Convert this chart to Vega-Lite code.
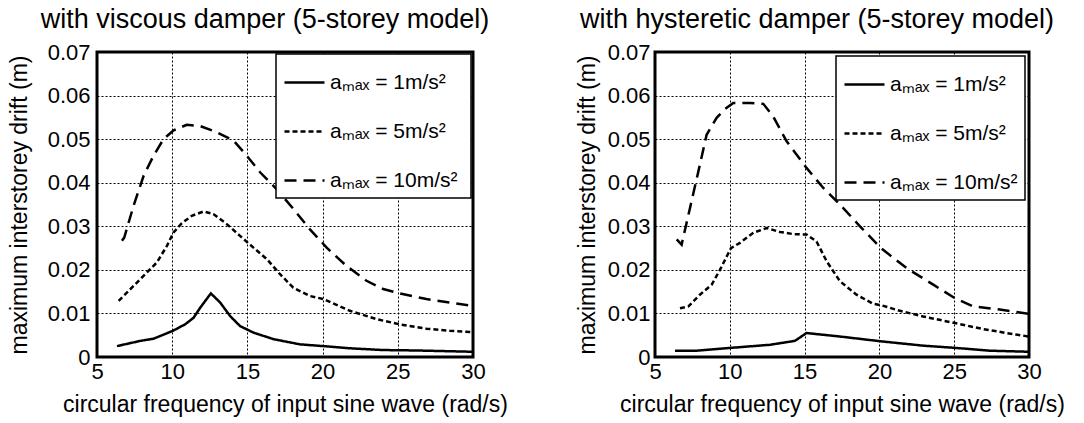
{
  "$schema": "https://vega.github.io/schema/vega-lite/v6.json",
  "padding": {"left": 6, "top": 4, "right": 0, "bottom": 0},
  "background": "white",
  "bounds": "flush",
  "spacing": 182,
  "resolve": {"scale": {"strokeDash": "independent"}, "legend": {"strokeDash": "independent"}},
  "config": {
    "font": "Liberation Sans",
    "view": {"stroke": "black", "strokeWidth": 3},
    "axis": {
      "labelFont": "Liberation Sans",
      "titleFont": "Liberation Sans",
      "labelFontSize": 22,
      "titleFontSize": 23,
      "titleFontWeight": "normal",
      "labelColor": "black",
      "titleColor": "black",
      "ticks": false,
      "domain": false,
      "grid": true,
      "gridColor": "black",
      "gridDash": [2, 2],
      "gridWidth": 1,
      "gridOpacity": 1
    },
    "legend": {
      "labelFont": "Liberation Sans",
      "labelFontSize": 21,
      "labelColor": "black",
      "fillColor": "white",
      "strokeColor": "black",
      "strokeWidth": 1.5,
      "padding": 7,
      "rowPadding": 17,
      "symbolType": "stroke",
      "symbolSize": 1600,
      "symbolStrokeWidth": 2.5,
      "symbolStrokeColor": "black",
      "labelOffset": 4
    },
    "title": {"font": "Liberation Sans", "fontSize": 27, "fontWeight": "normal", "color": "black", "anchor": "middle", "offset": 7}
  },
  "datasets": {
    "viscous": [
      {"w": 6.33, "drift": 0.0025, "amax": "1"},
      {"w": 7.88, "drift": 0.0037, "amax": "1"},
      {"w": 8.76, "drift": 0.0042, "amax": "1"},
      {"w": 10.04, "drift": 0.006, "amax": "1"},
      {"w": 10.86, "drift": 0.0075, "amax": "1"},
      {"w": 11.42, "drift": 0.009, "amax": "1"},
      {"w": 11.86, "drift": 0.0113, "amax": "1"},
      {"w": 12.57, "drift": 0.0146, "amax": "1"},
      {"w": 13.19, "drift": 0.0125, "amax": "1"},
      {"w": 13.85, "drift": 0.0094, "amax": "1"},
      {"w": 14.51, "drift": 0.0071, "amax": "1"},
      {"w": 15.4, "drift": 0.0056, "amax": "1"},
      {"w": 16.73, "drift": 0.0041, "amax": "1"},
      {"w": 18.5, "drift": 0.0029, "amax": "1"},
      {"w": 20.04, "drift": 0.0025, "amax": "1"},
      {"w": 21.8, "drift": 0.002, "amax": "1"},
      {"w": 24.0, "drift": 0.0016, "amax": "1"},
      {"w": 26.2, "drift": 0.0015, "amax": "1"},
      {"w": 30.0, "drift": 0.0012, "amax": "1"},
      {"w": 6.44, "drift": 0.0129, "amax": "5"},
      {"w": 7.43, "drift": 0.0163, "amax": "5"},
      {"w": 8.32, "drift": 0.0194, "amax": "5"},
      {"w": 8.98, "drift": 0.0217, "amax": "5"},
      {"w": 9.65, "drift": 0.0255, "amax": "5"},
      {"w": 10.09, "drift": 0.0286, "amax": "5"},
      {"w": 10.64, "drift": 0.0307, "amax": "5"},
      {"w": 11.3, "drift": 0.0324, "amax": "5"},
      {"w": 12.08, "drift": 0.0334, "amax": "5"},
      {"w": 12.74, "drift": 0.0328, "amax": "5"},
      {"w": 13.63, "drift": 0.0305, "amax": "5"},
      {"w": 14.51, "drift": 0.0278, "amax": "5"},
      {"w": 15.4, "drift": 0.0251, "amax": "5"},
      {"w": 16.28, "drift": 0.0225, "amax": "5"},
      {"w": 17.17, "drift": 0.019, "amax": "5"},
      {"w": 18.05, "drift": 0.0159, "amax": "5"},
      {"w": 19.16, "drift": 0.014, "amax": "5"},
      {"w": 20.04, "drift": 0.0133, "amax": "5"},
      {"w": 21.81, "drift": 0.0106, "amax": "5"},
      {"w": 23.58, "drift": 0.0087, "amax": "5"},
      {"w": 25.13, "drift": 0.0075, "amax": "5"},
      {"w": 26.9, "drift": 0.0065, "amax": "5"},
      {"w": 28.45, "drift": 0.006, "amax": "5"},
      {"w": 30.0, "drift": 0.0057, "amax": "5"},
      {"w": 6.66, "drift": 0.0267, "amax": "10"},
      {"w": 6.81, "drift": 0.0274, "amax": "10"},
      {"w": 7.43, "drift": 0.0347, "amax": "10"},
      {"w": 8.1, "drift": 0.0416, "amax": "10"},
      {"w": 8.76, "drift": 0.0462, "amax": "10"},
      {"w": 9.42, "drift": 0.05, "amax": "10"},
      {"w": 10.09, "drift": 0.052, "amax": "10"},
      {"w": 10.97, "drift": 0.0533, "amax": "10"},
      {"w": 11.86, "drift": 0.053, "amax": "10"},
      {"w": 12.96, "drift": 0.0516, "amax": "10"},
      {"w": 14.07, "drift": 0.0497, "amax": "10"},
      {"w": 14.96, "drift": 0.0462, "amax": "10"},
      {"w": 15.84, "drift": 0.0424, "amax": "10"},
      {"w": 16.95, "drift": 0.0385, "amax": "10"},
      {"w": 18.05, "drift": 0.034, "amax": "10"},
      {"w": 19.16, "drift": 0.0293, "amax": "10"},
      {"w": 20.27, "drift": 0.0251, "amax": "10"},
      {"w": 21.59, "drift": 0.0209, "amax": "10"},
      {"w": 22.92, "drift": 0.0175, "amax": "10"},
      {"w": 24.03, "drift": 0.0156, "amax": "10"},
      {"w": 25.13, "drift": 0.0146, "amax": "10"},
      {"w": 26.9, "drift": 0.0133, "amax": "10"},
      {"w": 28.45, "drift": 0.0125, "amax": "10"},
      {"w": 30.0, "drift": 0.0117, "amax": "10"}
    ],
    "hysteretic": [
      {"w": 6.34, "drift": 0.00145, "amax": "1"},
      {"w": 7.78, "drift": 0.00145, "amax": "1"},
      {"w": 10.08, "drift": 0.0021, "amax": "1"},
      {"w": 12.68, "drift": 0.0028, "amax": "1"},
      {"w": 14.35, "drift": 0.0037, "amax": "1"},
      {"w": 15.13, "drift": 0.0055, "amax": "1"},
      {"w": 17.36, "drift": 0.0047, "amax": "1"},
      {"w": 20.1, "drift": 0.0036, "amax": "1"},
      {"w": 22.93, "drift": 0.0026, "amax": "1"},
      {"w": 25.04, "drift": 0.0021, "amax": "1"},
      {"w": 27.38, "drift": 0.00145, "amax": "1"},
      {"w": 30.0, "drift": 0.0012, "amax": "1"},
      {"w": 6.67, "drift": 0.0112, "amax": "5"},
      {"w": 7.23, "drift": 0.0116, "amax": "5"},
      {"w": 8.0, "drift": 0.0143, "amax": "5"},
      {"w": 8.79, "drift": 0.0166, "amax": "5"},
      {"w": 9.34, "drift": 0.02, "amax": "5"},
      {"w": 10.08, "drift": 0.025, "amax": "5"},
      {"w": 10.68, "drift": 0.0262, "amax": "5"},
      {"w": 11.57, "drift": 0.0285, "amax": "5"},
      {"w": 12.46, "drift": 0.0296, "amax": "5"},
      {"w": 13.35, "drift": 0.0287, "amax": "5"},
      {"w": 14.24, "drift": 0.0282, "amax": "5"},
      {"w": 15.13, "drift": 0.0281, "amax": "5"},
      {"w": 15.8, "drift": 0.0265, "amax": "5"},
      {"w": 16.47, "drift": 0.022, "amax": "5"},
      {"w": 17.36, "drift": 0.0174, "amax": "5"},
      {"w": 18.47, "drift": 0.0143, "amax": "5"},
      {"w": 19.59, "drift": 0.0122, "amax": "5"},
      {"w": 20.1, "drift": 0.0119, "amax": "5"},
      {"w": 21.37, "drift": 0.0106, "amax": "5"},
      {"w": 22.93, "drift": 0.0093, "amax": "5"},
      {"w": 25.04, "drift": 0.0078, "amax": "5"},
      {"w": 26.94, "drift": 0.0064, "amax": "5"},
      {"w": 28.5, "drift": 0.0055, "amax": "5"},
      {"w": 30.0, "drift": 0.0047, "amax": "5"},
      {"w": 6.45, "drift": 0.027, "amax": "10"},
      {"w": 6.78, "drift": 0.0258, "amax": "10"},
      {"w": 7.34, "drift": 0.0342, "amax": "10"},
      {"w": 7.9, "drift": 0.0426, "amax": "10"},
      {"w": 8.45, "drift": 0.051, "amax": "10"},
      {"w": 9.12, "drift": 0.0549, "amax": "10"},
      {"w": 9.68, "drift": 0.0569, "amax": "10"},
      {"w": 10.23, "drift": 0.0583, "amax": "10"},
      {"w": 11.35, "drift": 0.0583, "amax": "10"},
      {"w": 12.24, "drift": 0.0581, "amax": "10"},
      {"w": 12.9, "drift": 0.0552, "amax": "10"},
      {"w": 13.8, "drift": 0.0495, "amax": "10"},
      {"w": 15.13, "drift": 0.0434, "amax": "10"},
      {"w": 16.25, "drift": 0.0388, "amax": "10"},
      {"w": 17.36, "drift": 0.035, "amax": "10"},
      {"w": 18.7, "drift": 0.03, "amax": "10"},
      {"w": 20.1, "drift": 0.025, "amax": "10"},
      {"w": 21.82, "drift": 0.0204, "amax": "10"},
      {"w": 23.6, "drift": 0.0166, "amax": "10"},
      {"w": 25.04, "drift": 0.0135, "amax": "10"},
      {"w": 26.27, "drift": 0.0116, "amax": "10"},
      {"w": 28.05, "drift": 0.0109, "amax": "10"},
      {"w": 30.0, "drift": 0.0099, "amax": "10"}
    ]
  },
  "hconcat": [
    {
      "title": {"text": "with viscous damper (5-storey model)", "dx": -20},
      "width": 376,
      "height": 305,
      "data": {"name": "viscous"},
      "mark": {"type": "line", "color": "black", "strokeWidth": 2.5},
      "encoding": {
        "x": {"field": "w", "type": "quantitative", "scale": {"domain": [5, 30], "nice": false, "zero": false},
          "axis": {"values": [5, 10, 15, 20, 25, 30], "title": "circular frequency of input sine wave (rad/s)", "labelPadding": 4, "titlePadding": 11, "labelFlush": false}},
        "y": {"field": "drift", "type": "quantitative", "scale": {"domain": [0, 0.07], "nice": false},
          "axis": {"values": [0, 0.01, 0.02, 0.03, 0.04, 0.05, 0.06, 0.07], "labelExpr": "datum.value == 0 ? '0' : format(datum.value, '.2f')", "title": "maximum interstorey drift (m)", "labelPadding": 7, "titlePadding": 16, "labelFlush": false}},
        "strokeDash": {"field": "amax", "type": "nominal",
          "scale": {"domain": ["1", "5", "10"], "range": [[1, 0], [5, 3], [12, 7]]},
          "legend": {"title": null, "orient": "top-right", "offset": 2, "labelExpr": "datum.label == '10' ? 'aₘₐₓ =  10m/s²' : 'aₘₐₓ =  ' + datum.label + 'm/s²'"}}
      }
    },
    {
      "title": {"text": "with hysteretic damper (5-storey model)", "dx": -25},
      "width": 374,
      "height": 305,
      "data": {"name": "hysteretic"},
      "mark": {"type": "line", "color": "black", "strokeWidth": 2.5},
      "encoding": {
        "x": {"field": "w", "type": "quantitative", "scale": {"domain": [5, 30], "nice": false, "zero": false},
          "axis": {"values": [5, 10, 15, 20, 25, 30], "title": "circular frequency of input sine wave (rad/s)", "labelPadding": 4, "titlePadding": 11, "labelFlush": false}},
        "y": {"field": "drift", "type": "quantitative", "scale": {"domain": [0, 0.07], "nice": false},
          "axis": {"values": [0, 0.01, 0.02, 0.03, 0.04, 0.05, 0.06, 0.07], "labelExpr": "datum.value == 0 ? '0' : format(datum.value, '.2f')", "title": "maximum interstorey drift (m)", "labelPadding": 5, "titlePadding": 8, "labelFlush": false}},
        "strokeDash": {"field": "amax", "type": "nominal",
          "scale": {"domain": ["1", "5", "10"], "range": [[1, 0], [5, 3], [12, 7]]},
          "legend": {"title": null, "orient": "top-right", "offset": 4, "labelExpr": "datum.label == '10' ? 'aₘₐₓ = 10m/s²' : 'aₘₐₓ =  ' + datum.label + 'm/s²'"}}
      }
    }
  ]
}
